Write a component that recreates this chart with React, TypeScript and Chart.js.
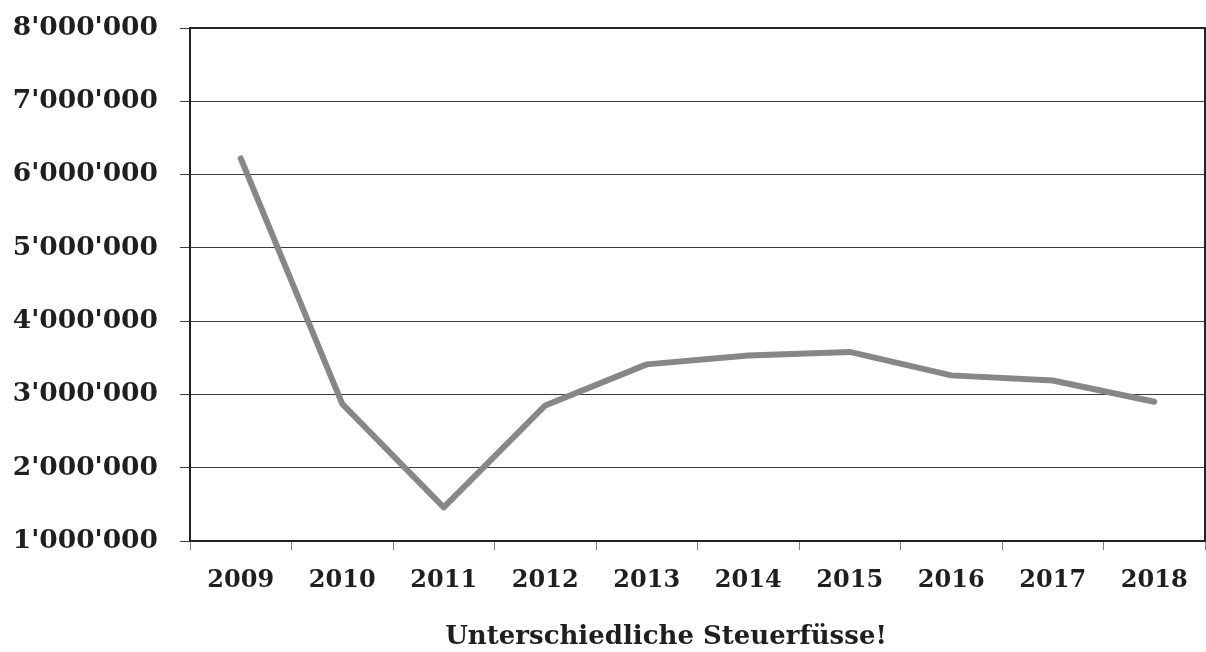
import { useEffect, useRef } from "react";
import { Chart, registerables } from "chart.js";

Chart.register(...registerables);

// Jahre auf der Kategorienachse
const years = ["2009", "2010", "2011", "2012", "2013", "2014", "2015", "2016", "2017", "2018"];
// Steuerertrag pro Jahr (CHF)
const amounts = [6220000, 2870000, 1460000, 2850000, 3410000, 3530000, 3580000, 3260000, 3190000, 2900000];
// Wertebereich der Y-Achse
const yMin = 1000000;
const yMax = 8000000;
const yStep = 1000000;
const caption = "Unterschiedliche Steuerfüsse!";

const FONT_FAMILY = '"DejaVu Serif", "Liberation Serif", serif';
const TEXT_COLOR = "#1f1f1f";
const FRAME_COLOR = "#222222";
const CAPTION_CENTER_X = 666;
const CAPTION_CENTER_Y = 637;

// Schweizer Tausendertrennzeichen: 8'000'000
function formatSwiss(v: number): string {
  return Math.round(v)
    .toString()
    .replace(/\B(?=(\d{3})+(?!\d))/g, "'");
}

// Rahmen um die Zeichenfläche (oben und rechts; links/unten sind die Achsen)
const framePlugin = {
  id: "plotFrame",
  beforeDatasetsDraw(chart: Chart) {
    const { ctx, chartArea } = chart;
    ctx.save();
    ctx.strokeStyle = FRAME_COLOR;
    ctx.lineWidth = 2;
    ctx.strokeRect(
      chartArea.left,
      chartArea.top,
      chartArea.right - chartArea.left,
      chartArea.bottom - chartArea.top
    );
    ctx.restore();
  },
};

// Beschriftung unter der Grafik
const captionPlugin = {
  id: "caption",
  afterDraw(chart: Chart) {
    const { ctx } = chart;
    ctx.save();
    ctx.font = `bold 26px ${FONT_FAMILY}`;
    ctx.fillStyle = TEXT_COLOR;
    ctx.textAlign = "center";
    ctx.textBaseline = "middle";
    ctx.fillText(caption, CAPTION_CENTER_X, CAPTION_CENTER_Y);
    ctx.restore();
  },
};

export default function App() {
  const canvasRef = useRef<HTMLCanvasElement | null>(null);

  useEffect(() => {
    const canvas = canvasRef.current;
    if (!canvas) return;

    const chart = new Chart(canvas, {
      type: "line",
      data: {
        labels: years,
        datasets: [
          {
            data: amounts,
            borderColor: "#878787",
            backgroundColor: "#878787",
            borderWidth: 6,
            borderCapStyle: "round",
            borderJoinStyle: "round",
            pointRadius: 0,
            pointHoverRadius: 0,
            tension: 0,
            fill: false,
          },
        ],
      },
      options: {
        responsive: false,
        animation: false,
        events: [],
        layout: { padding: { top: 28, right: 1, left: 0, bottom: 0 } },
        plugins: {
          legend: { display: false },
          tooltip: { enabled: false },
          title: { display: false },
        },
        scales: {
          x: {
            type: "category",
            offset: true,
            grid: {
              offset: true,
              drawOnChartArea: false,
              drawTicks: true,
              tickLength: 9,
              color: "#808080",
              lineWidth: 1,
            },
            border: { display: true, color: FRAME_COLOR, width: 2 },
            ticks: {
              color: TEXT_COLOR,
              padding: 16,
              maxRotation: 0,
              autoSkip: false,
              font: { family: FONT_FAMILY, size: 24, weight: "bold" },
            },
            afterFit(scale: any) {
              scale.height = 111;
            },
          },
          y: {
            min: yMin,
            max: yMax,
            grid: {
              color: "#3c3c3c",
              lineWidth: 1,
              drawTicks: true,
              tickLength: 10,
            },
            border: { display: true, color: FRAME_COLOR, width: 2 },
            ticks: {
              stepSize: yStep,
              color: TEXT_COLOR,
              padding: 22,
              font: { family: FONT_FAMILY, size: 26.5, weight: "bold" },
              callback: (value: any) => formatSwiss(Number(value)),
            },
            afterFit(scale: any) {
              scale.width = 190;
              scale.paddingTop = 0;
              scale.paddingBottom = 0;
            },
          },
        },
      },
      plugins: [framePlugin, captionPlugin],
    });

    return () => chart.destroy();
  }, []);

  return (
    <div style={{ position: "absolute", left: 0, top: 0, width: 1206, height: 652, background: "#ffffff" }}>
      <canvas ref={canvasRef} width={1206} height={652} style={{ display: "block" }} />
    </div>
  );
}
